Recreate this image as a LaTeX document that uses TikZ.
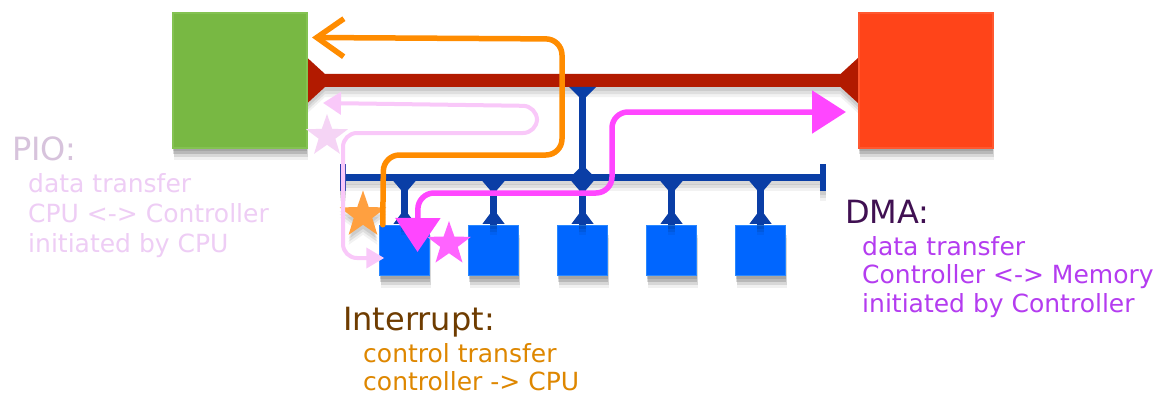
\documentclass[tikz,border=0pt]{standalone}
\usepackage{fontspec}
\setmainfont{DejaVu Sans}
\usetikzlibrary{shapes.geometric,arrows.meta,calc}
\definecolor{cpugreen}{RGB}{120,184,67}
\definecolor{cpuedge}{RGB}{132,194,82}
\definecolor{memred}{RGB}{255,68,25}
\definecolor{memedge}{RGB}{255,88,48}
\definecolor{busred}{RGB}{178,26,0}
\definecolor{busblue}{RGB}{10,62,166}
\definecolor{capblue}{RGB}{40,60,170}
\definecolor{ctrlblue}{RGB}{0,102,255}
\definecolor{ctrledge}{RGB}{40,135,255}
\definecolor{intorange}{RGB}{255,140,0}
\definecolor{dmamag}{RGB}{255,70,255}
\definecolor{piopink}{RGB}{249,200,249}
\definecolor{piostar}{RGB}{245,212,245}
\definecolor{intstar}{RGB}{255,160,64}
\definecolor{dmastar}{RGB}{255,100,255}
\definecolor{piotitle}{RGB}{215,195,220}
\definecolor{piobody}{RGB}{238,205,245}
\definecolor{dmatitle}{RGB}{64,16,82}
\definecolor{dmabody}{RGB}{180,60,240}
\definecolor{inttitle}{RGB}{110,60,0}
\definecolor{intbody}{RGB}{222,135,0}
\newcommand{\titlefnt}{\fontsize{32}{32}\selectfont}
\newcommand{\bodyfnt}{\fontsize{25}{29}\selectfont}
\tikzset{
  sh/.style={
    preaction={fill=black,opacity=0.10,transform canvas={yshift=-3pt}},
    preaction={fill=black,opacity=0.14,transform canvas={yshift=-6pt}},
    preaction={fill=black,opacity=0.10,transform canvas={yshift=-9pt,xshift=1pt}},
    preaction={fill=black,opacity=0.06,transform canvas={yshift=-12pt,xshift=1pt}}},
  shs/.style={
    preaction={fill=black,opacity=0.08,transform canvas={yshift=-4pt}},
    preaction={fill=black,opacity=0.08,transform canvas={yshift=-7pt}},
    preaction={fill=black,opacity=0.05,transform canvas={yshift=-10pt}}},
  bigbox/.style={sh,rectangle,minimum width=134pt,minimum height=134pt,inner sep=0pt,line width=2pt},
  ctrlbox/.style={sh,rectangle,fill=ctrlblue,draw=ctrledge,line width=1.5pt,minimum size=50pt,inner sep=0pt},
  starnode/.style={star,star points=5,star point ratio=2.5,inner sep=0pt},
  intarrow/.style={draw=intorange,line width=5.5pt,rounded corners=16pt,line cap=round,
     -{Straight Barb[length=27pt,width=38pt]}},
  dmaarrow/.style={draw=dmamag,line width=5.5pt,rounded corners=16pt,line cap=round,
     {Triangle[length=34pt,width=44pt]}-{Triangle[length=34pt,width=42pt]}},
  pioarrow/.style={draw=piopink,line width=4pt,rounded corners=14pt,
     {Triangle[length=18pt,width=22pt]}-{Triangle[length=18pt,width=20pt]}},
  txt/.style={anchor=base west,inner sep=0pt},
}
\begin{document}
\begin{tikzpicture}[x=1pt,y=-1pt]
\useasboundingbox[fill=white] (0,0) rectangle (1173,396);

% memory / cpu boxes (positions)
\path (240,80.5) coordinate (cpuc) (925.5,80.5) coordinate (memc);
\coordinate (cpue) at (307,80.5);
\coordinate (memw) at (858.5,80.5);

% red bus
\fill[busred,shs] ($(cpue)+(0,-23)$) -- ($(cpue)+(18,-6.5)$) -- ($(memw)+(-18,-6.5)$) -- ($(memw)+(0,-23)$)
  -- ($(memw)+(0,23)$) -- ($(memw)+(-18,6.5)$) -- ($(cpue)+(18,6.5)$) -- ($(cpue)+(0,23)$) -- cycle;

\node[bigbox,fill=cpugreen,draw=cpuedge] (cpu) at (cpuc) {};
\node[bigbox,fill=memred,draw=memedge] (mem) at (memc) {};

% controllers
\foreach \i/\x in {1/404.5,2/493.5,3/582.5,4/671.5,5/760.5}
  \node[ctrlbox] (c\i) at (\x,250.5) {};

% blue bus
\coordinate (bl) at (343,177);
\coordinate (br) at (823,177);
\coordinate (rb) at (582.5,87);
\fill[busblue,shs] ($(bl)+(0,-3.5)$) rectangle ($(br)+(0,3.5)$);
\fill[capblue,shs] ($(bl)+(-3,-13)$) rectangle ($(bl)+(3,14)$);
\fill[busblue,shs] ($(br)+(-3,-13)$) rectangle ($(br)+(3,14)$);
% link from red bus to blue bus
\fill[busblue,shs] ($(rb)+(-3.5,0)$) rectangle ($(rb|-bl)+(3.5,0)$);
\fill[busblue] ($(rb)+(-13.5,0)$) -- ($(rb)+(13.5,0)$) -- ($(rb)+(3.5,10)$) -- ($(rb)+(-3.5,10)$) -- cycle;
\fill[busblue] ($(c3.north|-bl)+(-12,0)$) -- ++(12,-12) -- ++(12,12) -- ++(-12,12) -- cycle;
% stems
\foreach \i in {1,...,5}{
  \fill[busblue,shs] ($(c\i.north)+(-3.5,0)$) rectangle ($(c\i.north|-bl)+(3.5,0)$);
  \fill[busblue] ($(c\i.north|-bl)+(-12,3)$) -- ++(24,0) -- ++(-8.5,10) -- ++(-7,0) -- cycle;
  \fill[busblue] ($(c\i.north)+(-11,-1)$) -- ++(22,0) -- ++(-7.5,-10) -- ++(-7,0) -- cycle;
}

% stars
\node[starnode,fill=piostar,minimum size=44pt] (s1) at (327,136) {};
\node[starnode,shs,fill=intstar,minimum size=49pt] (s2) at (363,215) {};
\node[starnode,fill=dmastar,minimum size=46pt] (s3) at (449,244) {};

% PIO path
\draw[pioarrow] ($(cpu.east)+(15,22.5)$) -- (537,106) -- (537,133) -- (343,133) -- (343,258) -- ($(c1.west)+(5.5,7.5)$);

% interrupt path
\draw[intarrow] ($(c1.north west)+(4,0)$) -- (383.5,155) -- (562,155) -- (562,39) -- ($(cpu.north east)+(4,25)$);

% DMA path
\draw[dmaarrow] ($(c1.center)+(13,1.5)$) -- (418,193) -- (612,193) -- (612,112) -- ($(mem.west)+(-11.5,31.5)$);

% texts
\node[txt,text=piotitle,font=\titlefnt] (piot) at (12,160) {PIO:};
\node[txt,text=piobody,font=\bodyfnt] (piob1) at (28,192) {data transfer};
\node[txt,text=piobody,font=\bodyfnt] (piob2) at (28,222) {CPU <-> Controller};
\node[txt,text=piobody,font=\bodyfnt] (piob3) at (28,252) {initiated by CPU};

\node[txt,text=dmatitle,font=\titlefnt] (dmat) at (845,223) {DMA:};
\node[txt,text=dmabody,font=\bodyfnt] (dmab1) at (862,255) {data transfer};
\node[txt,text=dmabody,font=\bodyfnt] (dmab2) at (862,283) {Controller <-> Memory};
\node[txt,text=dmabody,font=\bodyfnt] (dmab3) at (862,312) {initiated by Controller};

\node[txt,text=inttitle,font=\titlefnt] (intt) at (343,330) {Interrupt:};
\node[txt,text=intbody,font=\bodyfnt] (intb1) at (363,362) {control transfer};
\node[txt,text=intbody,font=\bodyfnt] (intb2) at (363,390) {controller -> CPU};
\end{tikzpicture}
\end{document}
